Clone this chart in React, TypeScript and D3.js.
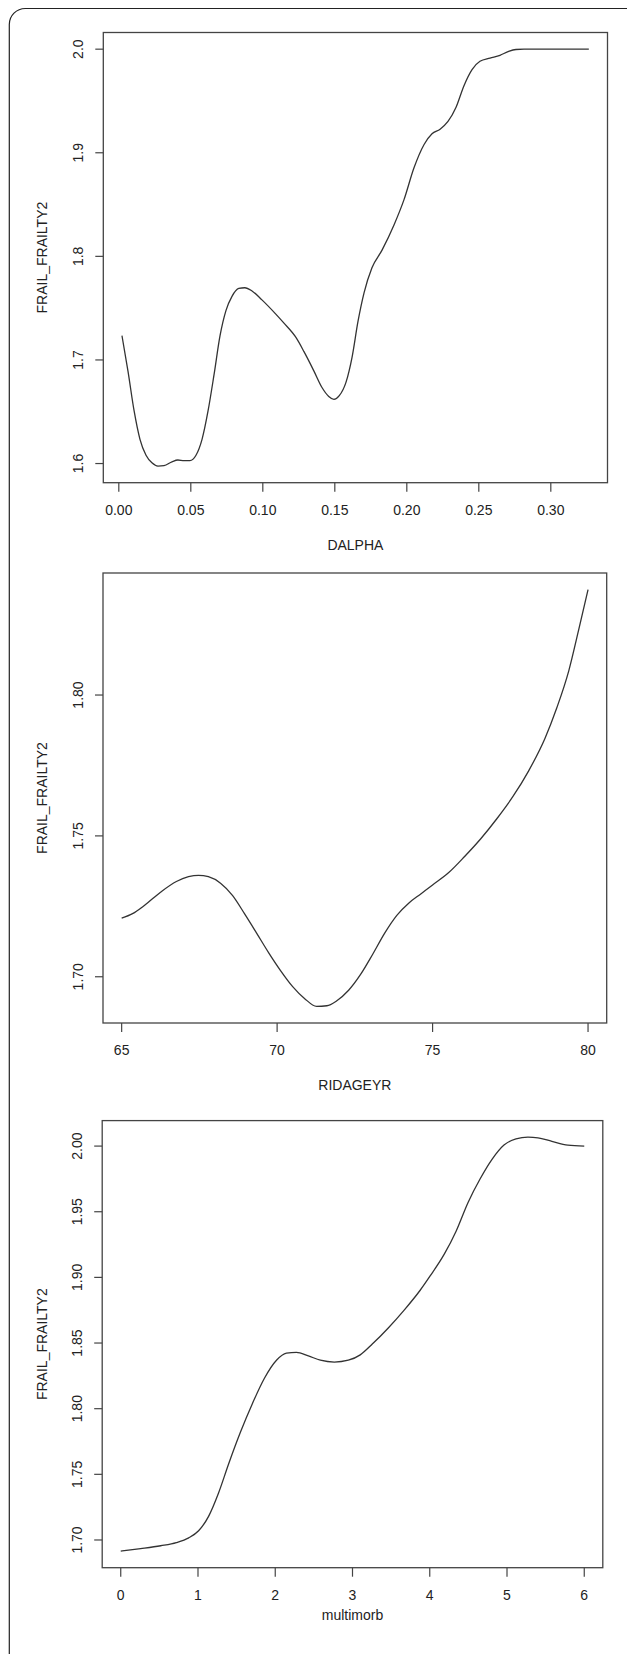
import React, { useEffect, useRef } from 'react';
import * as d3 from 'd3';

const WIDTH = 627;
const HEIGHT = 1654;

// Panel 1: DALPHA
const dalphaX = [0.0022, 0.0064, 0.0106, 0.0147, 0.0189, 0.023, 0.0272, 0.0314, 0.0369, 0.041, 0.0453, 0.0494, 0.0536, 0.0578, 0.062, 0.0661, 0.0703, 0.0744, 0.0786, 0.0833, 0.0875, 0.0925, 0.0994, 0.1092, 0.1147, 0.123, 0.1286, 0.1356, 0.1411, 0.1458, 0.1494, 0.1531, 0.1578, 0.162, 0.1661, 0.1703, 0.1758, 0.1828, 0.1911, 0.198, 0.205, 0.212, 0.2175, 0.2231, 0.2286, 0.2342, 0.2397, 0.2453, 0.2508, 0.2578, 0.2647, 0.2703, 0.2758, 0.2814, 0.3264];
const dalphaY = [1.7234, 1.689, 1.651, 1.6234, 1.608, 1.6007, 1.5976, 1.598, 1.6017, 1.6034, 1.6028, 1.6028, 1.608, 1.6234, 1.651, 1.6855, 1.7234, 1.7476, 1.7614, 1.769, 1.7697, 1.7666, 1.758, 1.744, 1.7355, 1.7217, 1.708, 1.689, 1.6734, 1.6648, 1.662, 1.6655, 1.6786, 1.7028, 1.7372, 1.7648, 1.789, 1.806, 1.8303, 1.8545, 1.8855, 1.908, 1.9183, 1.9228, 1.9303, 1.944, 1.9648, 1.9803, 1.9883, 1.9914, 1.9941, 1.9976, 1.9997, 2.0, 2.0];
const dalphaTicksX = [0, 0.05, 0.1, 0.15, 0.2, 0.25, 0.3];
const dalphaTicksY = [1.6, 1.7, 1.8, 1.9, 2.0];

// Panel 2: RIDAGEYR
const ageX = [65, 65.35, 65.73, 66.25, 66.76, 67.15, 67.47, 67.79, 68.18, 68.57, 68.95, 69.34, 69.73, 70.11, 70.5, 70.88, 71.27, 71.6, 71.91, 72.3, 72.69, 73.07, 73.46, 73.85, 74.24, 74.62, 75.0, 75.52, 76.03, 76.55, 77.06, 77.58, 78.09, 78.61, 78.99, 79.38, 79.7, 80.0];
const ageY = [1.7208, 1.7224, 1.7253, 1.73, 1.7338, 1.7355, 1.736, 1.7355, 1.7332, 1.7288, 1.7224, 1.7155, 1.7085, 1.7022, 1.6965, 1.6923, 1.6895, 1.6897, 1.6914, 1.6952, 1.7009, 1.7079, 1.7155, 1.7218, 1.7262, 1.7294, 1.7326, 1.737, 1.7427, 1.749, 1.756, 1.7639, 1.7731, 1.7845, 1.7953, 1.8086, 1.8232, 1.8374];
const ageTicksX = [65, 70, 75, 80];
const ageTicksY = [1.7, 1.75, 1.8];

// Panel 3: multimorb
const morbX = [0, 0.258, 0.517, 0.72, 0.88, 1.008, 1.137, 1.266, 1.395, 1.55, 1.705, 1.86, 2.016, 2.145, 2.274, 2.429, 2.584, 2.765, 2.946, 3.1, 3.256, 3.463, 3.669, 3.876, 4.005, 4.186, 4.341, 4.496, 4.651, 4.806, 4.961, 5.116, 5.271, 5.401, 5.581, 5.788, 6.0];
const morbY = [1.6915, 1.6934, 1.6956, 1.698, 1.7016, 1.707, 1.718, 1.7358, 1.7577, 1.7822, 1.804, 1.8232, 1.8369, 1.8423, 1.8429, 1.8402, 1.8369, 1.8355, 1.8369, 1.841, 1.8492, 1.8615, 1.8751, 1.8902, 1.9011, 1.9175, 1.9352, 1.9571, 1.9749, 1.9899, 2.0008, 2.0055, 2.0068, 2.0063, 2.0036, 2.0008, 2.0];
const morbTicksX = [0, 1, 2, 3, 4, 5, 6];
const morbTicksY = [1.7, 1.75, 1.8, 1.85, 1.9, 1.95, 2.0];

const yTitle = 'FRAIL_FRAILTY2';

const panels = [
  { xs: dalphaX, ys: dalphaY, ticksX: dalphaTicksX, ticksY: dalphaTicksY, fmtX: '.2f', fmtY: '.1f', xTitle: 'DALPHA',
    box: { left: 103.3, right: 607.5, top: 32.5, bottom: 482.7 }, titleOffset: 62 },
  { xs: ageX, ys: ageY, ticksX: ageTicksX, ticksY: ageTicksY, fmtX: 'd', fmtY: '.2f', xTitle: 'RIDAGEYR',
    box: { left: 103, right: 606.7, top: 573, bottom: 1023 }, titleOffset: 62 },
  { xs: morbX, ys: morbY, ticksX: morbTicksX, ticksY: morbTicksY, fmtX: 'd', fmtY: '.2f', xTitle: 'multimorb',
    box: { left: 102.2, right: 602.8, top: 1120.6, bottom: 1567.7 }, titleOffset: 47 },
];

// R style axis range: data extent padded by 4% each side
const padded = (vals: number[]) => {
  const [lo, hi] = d3.extent(vals) as [number, number];
  const pad = (hi - lo) * 0.04;
  return [lo - pad, hi + pad];
};

const FONT = '"Liberation Sans", Arial, Helvetica, sans-serif';

const App = () => {
  const svgRef = useRef<SVGSVGElement>(null);

  useEffect(() => {
    if (!svgRef.current) return;
    const svg = d3.select(svgRef.current);
    svg.selectAll('*').remove();

    svg.append('rect')
      .attr('width', WIDTH)
      .attr('height', HEIGHT)
      .attr('fill', 'white');

    // outer rounded frame, runs off the right and bottom edges
    svg.append('rect')
      .attr('x', 9.3)
      .attr('y', 8.5)
      .attr('width', 660)
      .attr('height', 1700)
      .attr('rx', 16)
      .attr('fill', 'none')
      .attr('stroke', '#222')
      .attr('stroke-width', 1.2);

    panels.forEach((p) => {
      const { box } = p;
      const x = d3.scaleLinear().domain(padded(p.xs)).range([box.left, box.right]);
      const y = d3.scaleLinear().domain(padded(p.ys)).range([box.bottom, box.top]);
      const g = svg.append('g').style('font-family', FONT).style('font-size', '14px');

      g.append('rect')
        .attr('x', box.left)
        .attr('y', box.top)
        .attr('width', box.right - box.left)
        .attr('height', box.bottom - box.top)
        .attr('fill', 'none')
        .attr('stroke', '#444')
        .attr('stroke-width', 1.3);

      const fx = d3.format(p.fmtX);
      const fy = d3.format(p.fmtY);

      // x ticks
      p.ticksX.forEach((t) => {
        g.append('line')
          .attr('x1', x(t)).attr('x2', x(t))
          .attr('y1', box.bottom).attr('y2', box.bottom + 9)
          .attr('stroke', '#444').attr('stroke-width', 1.2);
        g.append('text')
          .attr('x', x(t))
          .attr('y', box.bottom + 27)
          .attr('dy', '0.36em')
          .attr('text-anchor', 'middle')
          .attr('fill', '#222')
          .text(fx(t));
      });

      // y ticks
      p.ticksY.forEach((t) => {
        g.append('line')
          .attr('x1', box.left - 8).attr('x2', box.left)
          .attr('y1', y(t)).attr('y2', y(t))
          .attr('stroke', '#444').attr('stroke-width', 1.2);
        g.append('text')
          .attr('transform', `translate(${box.left - 25.5},${y(t)}) rotate(-90)`)
          .attr('dy', '0.36em')
          .attr('text-anchor', 'middle')
          .attr('fill', '#222')
          .text(fy(t));
      });

      // axis titles
      g.append('text')
        .attr('x', (box.left + box.right) / 2)
        .attr('y', box.bottom + p.titleOffset)
        .attr('dy', '0.36em')
        .attr('text-anchor', 'middle')
        .attr('fill', '#222')
        .text(p.xTitle);

      g.append('text')
        .attr('transform', `translate(42,${(box.top + box.bottom) / 2}) rotate(-90)`)
        .attr('dy', '0.36em')
        .attr('text-anchor', 'middle')
        .attr('fill', '#222')
        .text(yTitle);

      const line = d3.line<number>()
        .x((_, i) => x(p.xs[i]))
        .y((d) => y(d))
        .curve(d3.curveMonotoneX);

      g.append('path')
        .datum(p.ys)
        .attr('d', line)
        .attr('fill', 'none')
        .attr('stroke', '#333')
        .attr('stroke-width', 1.3);
    });
  }, []);

  return (
    <svg
      ref={svgRef}
      width={WIDTH}
      height={HEIGHT}
      style={{ position: 'absolute', left: 0, top: 0, display: 'block' }}
    />
  );
};

export default App;
